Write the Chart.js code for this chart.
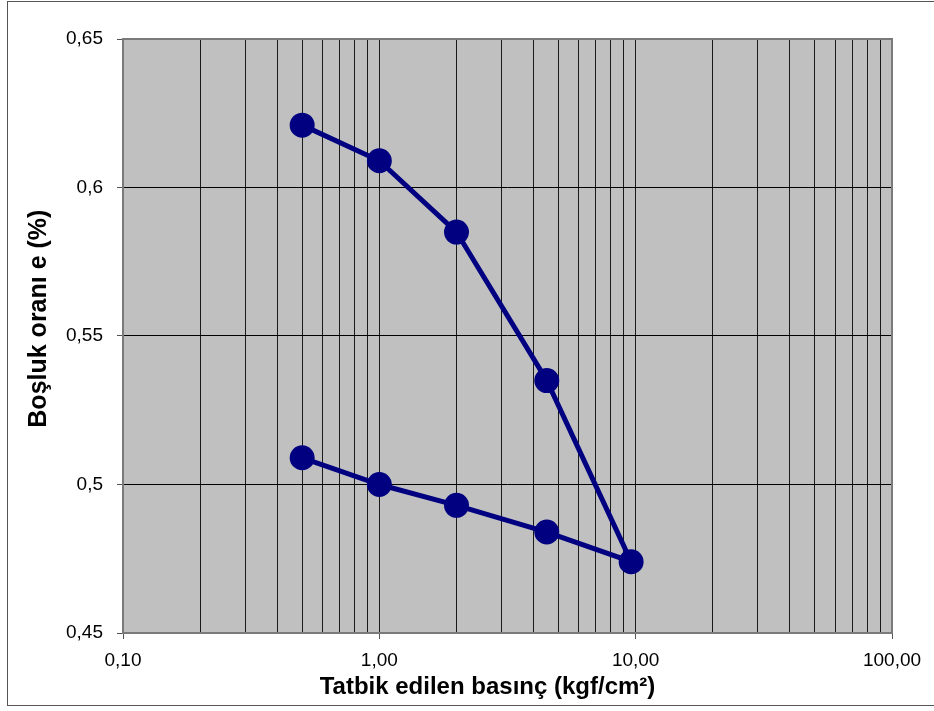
<!DOCTYPE html>
<html>
<head>
<meta charset="utf-8">
<script src="https://cdn.jsdelivr.net/npm/chart.js@4/dist/chart.umd.min.js"></script>
<style>
  body { margin: 0; background: #fff; overflow: hidden; }
  #wrap { position: relative; width: 934px; height: 711px; }
  #frame { position: absolute; left: 7px; top: 1px; width: 940px; height: 705px; border: 1px solid #555; box-sizing: border-box; }
  canvas { position: absolute; left: 0; top: 0; }
</style>
</head>
<body>
<div id="wrap">
  <div id="frame"></div>
  <canvas id="consolChart" width="934" height="711"></canvas>
</div>
<script>
// yükleme ve boşaltma kademeleri (kgf/cm2)
const pressure = [0.5, 1, 2, 4.5, 9.6, 4.5, 2, 1, 0.5];
const voidRatio = [0.621, 0.609, 0.585, 0.535, 0.474, 0.484, 0.493, 0.500, 0.509];
const xDecades = [0.1, 1, 10, 100];
const yTicks = [0.45, 0.5, 0.55, 0.6, 0.65];

const points = pressure.map((p, i) => ({ x: p, y: voidRatio[i] }));

function isDecade(v) {
  return xDecades.some(d => Math.abs(v - d) < 1e-9);
}

// gri çizim alanı ve çerçeve
const plotArea = {
  id: 'plotArea',
  beforeDraw(chart) {
    const a = chart.chartArea, ctx = chart.ctx;
    ctx.save();
    ctx.fillStyle = '#C0C0C0';
    ctx.fillRect(a.left, a.top, a.right - a.left, a.bottom - a.top);
    ctx.restore();
  },
  beforeDatasetsDraw(chart) {
    const a = chart.chartArea, ctx = chart.ctx;
    ctx.save();
    ctx.strokeStyle = '#7a7a7a';
    ctx.lineWidth = 2;
    ctx.strokeRect(a.left, a.top, a.right - a.left, a.bottom - a.top);
    ctx.restore();
  }
};

Chart.defaults.font.family = '"Liberation Sans", Arial, sans-serif';
Chart.defaults.color = '#000';

new Chart(document.getElementById('consolChart'), {
  type: 'scatter',
  data: {
    datasets: [{
      data: points,
      showLine: true,
      borderColor: '#000080',
      backgroundColor: '#000080',
      borderWidth: 5,
      pointRadius: 10,
      pointHoverRadius: 10,
      tension: 0
    }]
  },
  options: {
    responsive: false,
    animation: false,
    plugins: { legend: { display: false }, tooltip: { enabled: false } },
    layout: { padding: { top: 39, right: 42, left: 0, bottom: 0 } },
    scales: {
      x: {
        type: 'logarithmic',
        min: 0.1,
        max: 100,
        afterBuildTicks(scale) {
          const t = [];
          for (let d = 0.1; d < 99; d *= 10) {
            for (let k = 1; k < 10; k++) t.push({ value: +(d * k).toPrecision(3) });
          }
          t.push({ value: 100 });
          scale.ticks = t;
        },
        afterFit(scale) { scale.height = 78; },
        border: { display: false },
        grid: {
          color: '#1a1a1a',
          lineWidth: 1,
          tickLength: 6,
          tickColor: ctx => isDecade(ctx.tick.value) ? '#555' : 'rgba(0,0,0,0)'
        },
        ticks: {
          autoSkip: false,
          maxRotation: 0,
          padding: 10,
          font: { size: 19 },
          callback: v => isDecade(v) ? v.toFixed(2).replace('.', ',') : ''
        },
        title: {
          display: true,
          // sondaki boşluklar başlığı biraz sola kaydırıyor
          text: 'Tatbik edilen basınç (kgf/cm²)      ',
          font: { size: 24, weight: 'bold' },
          padding: { top: 0, bottom: 9 }
        }
      },
      y: {
        min: 0.45,
        max: 0.65,
        afterBuildTicks(scale) {
          scale.ticks = yTicks.map(v => ({ value: v }));
        },
        afterFit(scale) { scale.width = 123; },
        border: { display: false },
        grid: { color: '#000', lineWidth: 1, tickLength: 6, tickColor: '#555' },
        ticks: {
          padding: 14,
          font: { size: 19 },
          callback: v => String(+v.toFixed(2)).replace('.', ',')
        },
        title: {
          display: true,
          text: '     Boşluk oranı e (%)',
          font: { size: 25, weight: 'bold' },
          padding: { top: 24, bottom: 0 }
        }
      }
    }
  },
  plugins: [plotArea]
});
</script>
</body>
</html>
